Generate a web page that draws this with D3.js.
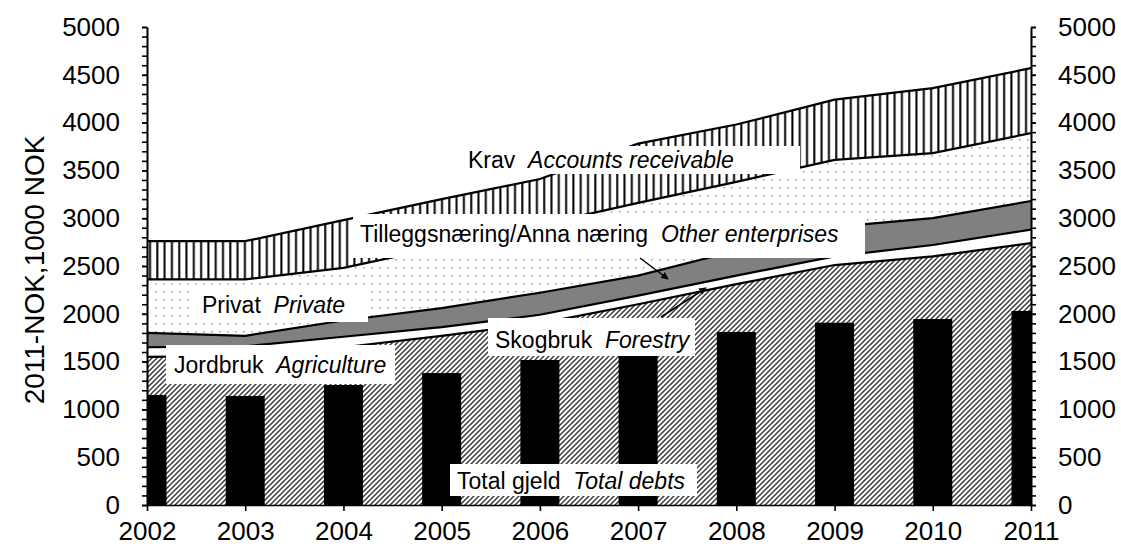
<!DOCTYPE html>
<html><head><meta charset="utf-8">
<script src="https://cdn.jsdelivr.net/npm/d3@7"></script>
<style>
body{margin:0;background:#fff;}
svg text{font-family:"Liberation Sans",Arial,sans-serif;}
</style></head><body>
<svg id="c" width="1121" height="551"></svg>
<script>
// ---- data (1000 NOK, 2011-NOK) ----
const years = [2002,2003,2004,2005,2006,2007,2008,2009,2010,2011];
const jordbruk = [1550,1560,1650,1770,1900,2100,2310,2510,2600,2740];
const skogbruk = [100,100,110,90,90,90,90,90,120,140];
const annaNaering = [150,110,170,200,230,210,260,310,280,300];
const privat = [560,590,550,640,710,760,720,700,680,710];
const krav = [400,400,500,500,480,620,600,630,680,680];
const totalGjeld = [1150,1140,1255,1380,1517,1600,1810,1907,1945,2030];
const yTickLabels = [0,500,1000,1500,2000,2500,3000,3500,4000,4500,5000];
const yMinorTicks = [0,100,200,300,400,500,600,700,800,900,1000,1100,1200,1300,1400,1500,1600,1700,1800,1900,2000,2100,2200,2300,2400,2500,2600,2700,2800,2900,3000,3100,3200,3300,3400,3500,3600,3700,3800,3900,4000,4100,4200,4300,4400,4500,4600,4700,4800,4900,5000];
const yTitle = "2011-NOK,1000 NOK";
const labels = [
  {n:"Krav", it:"Accounts receivable"},
  {n:"Tilleggsnæring/Anna næring", it:"Other enterprises"},
  {n:"Privat", it:"Private"},
  {n:"Jordbruk", it:"Agriculture"},
  {n:"Skogbruk", it:"Forestry"},
  {n:"Total gjeld", it:"Total debts"}
];

// ---- layout ----
const m = {left:147, right:1031, top:27, bottom:505};
const svg = d3.select("#c");
svg.append("rect").attr("width",1121).attr("height",551).attr("fill","#fff");
const x = d3.scalePoint().domain(years).range([m.left, m.right]);
const y = d3.scaleLinear().domain([0,5000]).range([m.bottom, m.top]);

const defs = svg.append("defs");
const pd = defs.append("pattern").attr("id","diag").attr("patternUnits","userSpaceOnUse").attr("width",5).attr("height",5);
pd.append("rect").attr("width",5).attr("height",5).attr("fill","#fff");
pd.append("path").attr("d","M-1,6 L6,-1 M-1,1 L1,-1 M4,6 L6,4").attr("stroke","#3a3a3a").attr("stroke-width",1.5);
const pdots = defs.append("pattern").attr("id","dots").attr("patternUnits","userSpaceOnUse").attr("width",8).attr("height",8);
pdots.append("rect").attr("width",8).attr("height",8).attr("fill","#fff");
pdots.append("rect").attr("x",3).attr("y",3).attr("width",1.5).attr("height",1.5).attr("fill","#999");
const pv = defs.append("pattern").attr("id","vlines").attr("patternUnits","userSpaceOnUse").attr("width",7.3).attr("height",10);
pv.append("rect").attr("width",7.3).attr("height",10).attr("fill","#fff");
pv.append("rect").attr("x",3).attr("y",0).attr("width",2).attr("height",10).attr("fill","#000");
defs.append("clipPath").attr("id","plot").append("rect")
  .attr("x",m.left).attr("y",0).attr("width",m.right-m.left).attr("height",m.bottom);
const mk = defs.append("marker").attr("id","arr").attr("viewBox","0 0 10 10").attr("refX",9).attr("refY",5)
  .attr("markerWidth",5).attr("markerHeight",5).attr("orient","auto");
mk.append("path").attr("d","M0,0 L10,5 L0,10 z").attr("fill","#000");

// ---- stacked areas ----
const table = years.map((yr,i)=>({year:yr, jordbruk:jordbruk[i], skogbruk:skogbruk[i], anna:annaNaering[i], privat:privat[i], krav:krav[i]}));
const keys = ["jordbruk","skogbruk","anna","privat","krav"];
const fills = {jordbruk:"url(#diag)", skogbruk:"#fff", anna:"#808080", privat:"url(#dots)", krav:"url(#vlines)"};
const series = d3.stack().keys(keys)(table);
const area = d3.area().x(d=>x(d.data.year)).y0(d=>y(d[0])).y1(d=>y(d[1]));
const line = d3.line().x(d=>x(d.data.year)).y(d=>y(d[1]));
const gA = svg.append("g").attr("clip-path","url(#plot)");
gA.selectAll("path.a").data(series).join("path").attr("class","a")
  .attr("d",area).attr("fill",s=>fills[s.key]);
gA.selectAll("path.l").data(series).join("path").attr("class","l")
  .attr("d",line).attr("fill","none").attr("stroke","#000").attr("stroke-width",2.2);

// ---- bars ----
const bw = 39;
gA.selectAll("rect.bar").data(years).join("rect").attr("class","bar")
  .attr("x",d=>x(d)-bw/2).attr("width",bw)
  .attr("y",(d,i)=>y(totalGjeld[i])).attr("height",(d,i)=>y(0)-y(totalGjeld[i]))
  .attr("fill","#000");

// ---- axes ----
function styleAxis(g, fs){
  g.selectAll(".domain").attr("stroke","#000").attr("stroke-width",1.6);
  g.selectAll(".tick line").attr("stroke","#000").attr("stroke-width",1.6);
  g.selectAll(".tick text").attr("font-size",fs).attr("fill","#000")
    .attr("font-family","'Liberation Sans',Arial,sans-serif");
}
const fmt = d3.format("d");
const gLm = svg.append("g").attr("transform",`translate(${m.left},0)`)
  .call(d3.axisLeft(y).tickValues(yMinorTicks).tickSize(5).tickSizeOuter(0).tickFormat(""));
styleAxis(gLm,26);
const gL = svg.append("g").attr("transform",`translate(${m.left},0)`)
  .call(d3.axisLeft(y).tickValues(yTickLabels).tickSize(5).tickPadding(22).tickSizeOuter(0).tickFormat(fmt));
styleAxis(gL,26);
const gRm = svg.append("g").attr("transform",`translate(${m.right},0)`)
  .call(d3.axisRight(y).tickValues(yMinorTicks).tickSize(5).tickSizeOuter(0).tickFormat(""));
styleAxis(gRm,26);
const gR = svg.append("g").attr("transform",`translate(${m.right},0)`)
  .call(d3.axisRight(y).tickValues(yTickLabels).tickSize(5).tickPadding(22).tickSizeOuter(0).tickFormat(fmt));
styleAxis(gR,26);
const gB = svg.append("g").attr("transform",`translate(0,${m.bottom})`)
  .call(d3.axisBottom(x).tickSize(6).tickPadding(11).tickSizeOuter(0).tickFormat(fmt));
styleAxis(gB,26);

svg.append("text").attr("transform",`translate(44,${(m.top+m.bottom)/2 + 4}) rotate(-90)`)
  .attr("text-anchor","middle").attr("font-size",28).attr("fill","#000").text(yTitle);

// ---- annotation boxes ----
const boxes = [
  {x0:455,y0:146,x1:800,y1:174,tx:468,ty:168},
  {x0:353,y0:214,x1:865,y1:258,tx:360,ty:242},
  {x0:195,y0:290,x1:368,y1:322,tx:202,ty:313},
  {x0:166,y0:345,x1:395,y1:384,tx:174,ty:373},
  {x0:488,y0:318,x1:695,y1:356,tx:495,ty:348},
  {x0:450,y0:464,x1:697,y1:496,tx:457,ty:489}
];
const gT = svg.append("g");
labels.forEach((l,i)=>{
  const b = boxes[i];
  gT.append("rect").attr("x",b.x0).attr("y",b.y0).attr("width",b.x1-b.x0).attr("height",b.y1-b.y0).attr("fill","#fff");
  const t = gT.append("text").attr("x",b.tx).attr("y",b.ty).attr("font-size",23).attr("fill","#000")
    .style("white-space","pre");
  t.append("tspan").text(l.n + "  ");
  t.append("tspan").attr("font-style","italic").text(l.it);
});
// arrows
svg.append("line").attr("x1",640).attr("y1",258).attr("x2",668).attr("y2",279)
  .attr("stroke","#000").attr("stroke-width",1.5).attr("marker-end","url(#arr)");
svg.append("line").attr("x1",661).attr("y1",317).attr("x2",706).attr("y2",288)
  .attr("stroke","#000").attr("stroke-width",1.5).attr("marker-end","url(#arr)");
</script>
</body></html>
